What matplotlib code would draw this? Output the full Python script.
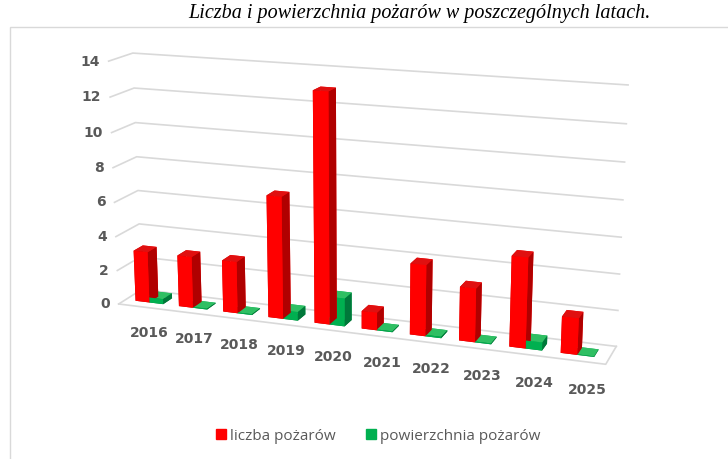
import numpy as np
import matplotlib.pyplot as plt
from matplotlib.patches import Patch, Rectangle

# dane z wykresu
years = ['2016', '2017', '2018', '2019', '2020', '2021', '2022', '2023', '2024', '2025']
liczba = [3, 3, 3, 7, 13, 1, 4, 3, 5, 2]
powierzchnia = [0.3, 0.05, 0.05, 0.5, 1.6, 0.05, 0.08, 0.05, 0.45, 0.03]
z_ticks = [0, 2, 4, 6, 8, 10, 12, 14]

TXT = '#595959'
GRID = '#d9d9d9'
RED_FACES = ['#b00000', '#e01010', '#ff0000', '#ff0000', '#d00000', '#b00000']
GREEN_FACES = ['#007a33', '#2fbf63', '#00b050', '#00b050', '#009a45', '#00783a']

W, H = 728, 460
fig = plt.figure(figsize=(W / 100, H / 100), dpi=100)
side = W / H
ax = fig.add_axes([-16 / W, (1 - side) / 2 + 18 / H, 1, side], projection='3d')
ax.set_proj_type('persp', focal_length=0.4)
ax.view_init(elev=15, azim=-70)
ax.set_box_aspect((2.0, 0.2, 1.0), zoom=0.78)
XMIN, XMAX = -0.55, 9.6
ax.set_xlim(XMIN, XMAX)
ax.set_ylim(0, 1)
ax.set_zlim(0, 14)
ax.set_axis_off()

n = len(years)
xs = np.arange(n)
bw = 0.32
x0 = np.concatenate([xs - bw, xs])
h = np.concatenate([liczba, powierzchnia])
cols = RED_FACES * n + GREEN_FACES * n
ax.bar3d(x0, np.full(2 * n, 0.3), np.zeros(2 * n), bw, 0.4, h,
         color=cols, shade=False)

# siatka: lewa i tylna ściana
for z in z_ticks:
    ax.plot([XMIN, XMIN, XMAX], [0, 1, 1], [z, z, z], color=GRID, lw=1.2)
    ax.text(XMIN - 0.2, 0, z, str(z), color=TXT, fontsize=10, fontweight='bold',
            ha='right', va='center')
ax.plot([XMIN, XMAX, XMAX], [0, 0, 1], [0, 0, 0], color=GRID, lw=1.2)

# etykiety lat przed podłogą
for i, yr in enumerate(years):
    ax.text(i + 0.35, -0.4, -1.0, yr, color=TXT, fontsize=10, fontweight='bold',
            ha='center', va='center')

fig.text(0.576, 0.97, 'Liczba i powierzchnia pożarów w poszczególnych latach.',
         family='Liberation Serif', style='italic', fontsize=14.5,
         ha='center', va='center')
fig.patches.append(Rectangle((10 / W, -0.1), 1.2, (H - 28) / H + 0.1,
                             transform=fig.transFigure, fill=False,
                             ec=GRID, lw=1))

handles = [Patch(color='#ff0000', label='liczba pożarów'),
           Patch(color='#00b050', label='powierzchnia pożarów')]
fig.legend(handles=handles, loc='center', bbox_to_anchor=(0.52, 0.05), ncol=2,
           frameon=False, handlelength=0.6, handleheight=0.6, handletextpad=0.3,
           columnspacing=2.0, prop={'family': 'Open Sans', 'size': 11},
           labelcolor=TXT)

fig.savefig('out.png', dpi=100)
